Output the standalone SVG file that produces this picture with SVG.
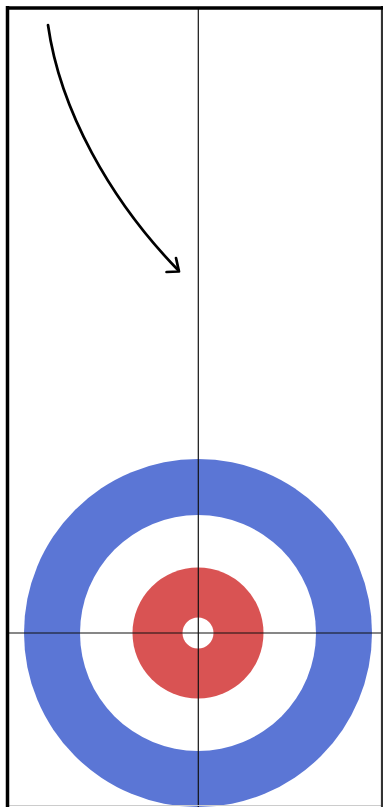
<svg xmlns="http://www.w3.org/2000/svg" width="383" height="807" viewBox="0 0 383 807">
<style>
.ring{stroke:none}
.axis{stroke:#111;stroke-width:1.2;fill:none}
.arrow{stroke:#000;stroke-width:2.7;fill:none;stroke-linecap:round;stroke-linejoin:round}
</style>
<rect x="0" y="0" width="383" height="807" fill="#fff"/>
<g id="house">
<circle class="ring" cx="198" cy="633" r="174" fill="#5b76d5"/>
<circle class="ring" cx="198" cy="633" r="118" fill="#fff"/>
<circle class="ring" cx="198" cy="633" r="65.5" fill="#d95353"/>
<circle class="ring" cx="198" cy="633" r="15.5" fill="#fff"/>
</g>
<g id="lines">
<line class="axis" x1="198.3" y1="9" x2="198.3" y2="807"/>
<line class="axis" x1="9" y1="633" x2="383" y2="633"/>
</g>
<g id="border">
<line x1="9" y1="805.5" x2="383" y2="805.5" stroke="#ccc" stroke-width="1.2"/>
<line x1="382" y1="6" x2="382" y2="807" stroke="#333" stroke-width="2.2"/>
<line x1="6" y1="8" x2="383" y2="8" stroke="#000" stroke-width="3.5"/>
<line x1="7.5" y1="6" x2="7.5" y2="807" stroke="#000" stroke-width="3.5"/>
</g>
<g id="connectors">
<path class="arrow" d="M48,25 C60,110 110,200 178,270"/>
<path class="arrow" d="M166.5,272 L179,271.5 L176,258"/>
</g>
</svg>
